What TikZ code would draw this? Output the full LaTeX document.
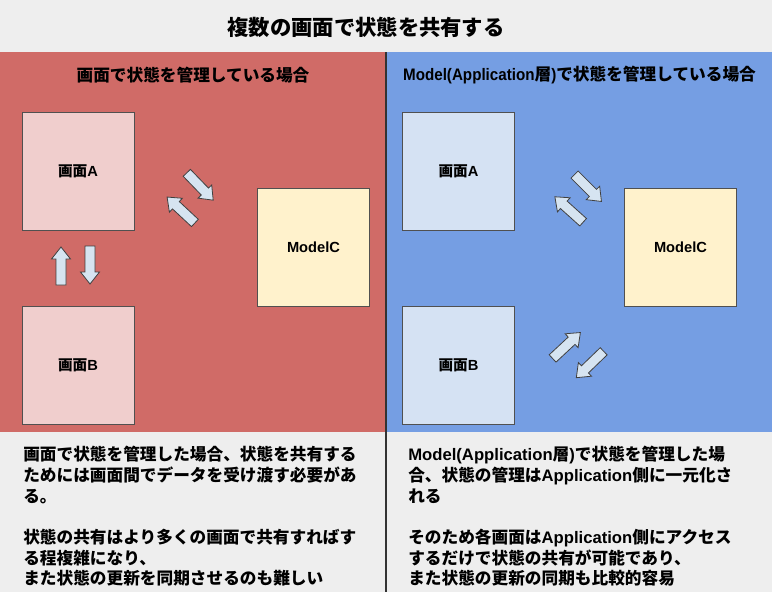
\documentclass[tikz,border=0pt]{standalone}
\usepackage{fontspec}
\setmainfont{Noto Sans CJK JP}
\newfontfamily\latinfont{Liberation Sans}
\newcommand{\en}[1]{{\latinfont #1}}
\usepackage{tikz}

\definecolor{bggray}{RGB}{238,238,238}
\definecolor{panelred}{RGB}{208,107,103}
\definecolor{panelblue}{RGB}{117,158,227}
\definecolor{screenpink}{RGB}{240,206,205}
\definecolor{screenblue}{RGB}{213,226,243}
\definecolor{modelyellow}{RGB}{255,242,204}
\definecolor{arrowblue}{RGB}{214,228,241}
\definecolor{boxline}{RGB}{80,80,80}

\begin{document}
\begin{tikzpicture}[x=0.75pt,y=-0.75pt,
  screenbox/.style={draw=boxline, line width=0.5pt, minimum width=84pt, minimum height=88.5pt, inner sep=0pt, font=\fontsize{11}{13}\selectfont\bfseries},
  headtext/.style={font=\fontsize{12.5}{15}\selectfont\bfseries},
  bodytext/.style={align=left, inner sep=0pt, anchor=north west, font=\fontsize{12.5}{15.5}\selectfont\bfseries},
  flowarrow/.pic={
    \draw[draw=boxline!80!black, fill=arrowblue, line width=0.6pt, line join=miter]
      (-19,-5) -- (7,-5) -- (7,-9.5) -- (19,0) -- (7,9.5) -- (7,5) -- (-19,5) -- cycle;
  }]
% background and panels
\fill[bggray] (0,0) rectangle (772,592);
\fill[panelred] (0,52) rectangle (386,432);
\fill[panelblue] (386,52) rectangle (772,432);
\draw[line width=1.1pt, black!80] (386,52) -- (386,592);

\node[font=\fontsize{16}{19}\selectfont\bfseries] (title) at (366,27) {複数の画面で状態を共有する};
\node[headtext] (lhead) at (193,75) {画面で状態を管理している場合};
\node[headtext] (rhead) at (579.5,75) {\scalebox{0.91}[1]{\en{Model(Application}}層\scalebox{0.91}[1]{\en{)}}で状態を管理している場合};

% left: screens hold the state
\node[screenbox, fill=screenpink] (scrA) at (78,171) {画面\en{A}};
\node[screenbox, fill=screenpink] (scrB) at (78,365) {画面\en{B}};
\node[screenbox, fill=modelyellow] (modC) at (313.5,247) {\en{ModelC}};
\pic[rotate=-46] at (200,186.5) {flowarrow};
\pic[rotate=137] at (181,210) {flowarrow};
\pic[rotate=90] at (61,266) {flowarrow};
\pic[rotate=-90] at (90,265) {flowarrow};

% right: application layer holds the state
\node[screenbox, fill=screenblue] (rscrA) at (458.5,171) {画面\en{A}};
\node[screenbox, fill=screenblue] (rscrB) at (458.5,365) {画面\en{B}};
\node[screenbox, fill=modelyellow] (rmodC) at (680.5,247) {\en{ModelC}};
\pic[rotate=-45] at (588,188) {flowarrow};
\pic[rotate=138] at (569,209.5) {flowarrow};
\pic[rotate=43] at (566.5,345.5) {flowarrow};
\pic[rotate=224] at (590,364.5) {flowarrow};

% notes
\node[bodytext] (lnote) at (23,446) {画面で状態を管理した場合、状態を共有する\\ためには画面間でデータを受け渡す必要があ\\る。\\[15.5pt]状態の共有はより多くの画面で共有すればす\\る程複雑になり、\\また状態の更新を同期させるのも難しい};
\node[bodytext] (rnote) at (408,446) {\en{Model(Application}層\en{)}で状態を管理した場\\合、状態の管理は\en{Application}側に一元化さ\\れる\\[15.5pt]そのため各画面は\en{Application}側にアクセス\\するだけで状態の共有が可能であり、\\また状態の更新の同期も比較的容易};
\end{tikzpicture}
\end{document}
